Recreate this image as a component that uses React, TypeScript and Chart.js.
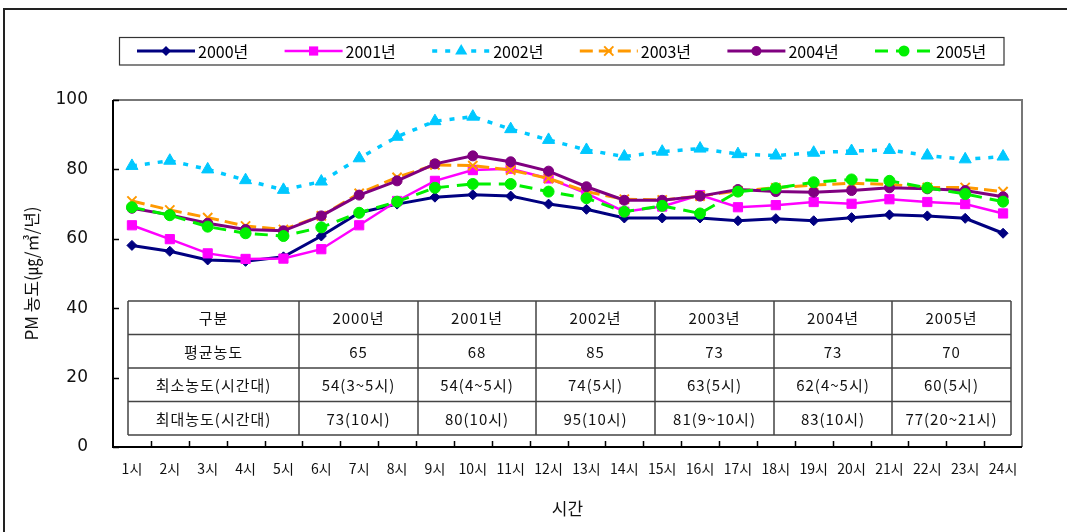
import React, { useEffect, useRef } from 'react';
import { Chart, registerables } from 'chart.js';

Chart.register(...registerables);

const hours = ['1시', '2시', '3시', '4시', '5시', '6시', '7시', '8시', '9시', '10시', '11시', '12시', '13시', '14시', '15시', '16시', '17시', '18시', '19시', '20시', '21시', '22시', '23시', '24시'];
const years = ['2000년', '2001년', '2002년', '2003년', '2004년', '2005년'];

const y2000 = [58.1, 56.4, 53.9, 53.5, 54.8, 60.8, 67.5, 70.0, 72.0, 72.7, 72.3, 70.0, 68.5, 66.0, 66.0, 66.0, 65.2, 65.8, 65.2, 66.1, 66.9, 66.6, 65.9, 61.6];
const y2001 = [63.9, 59.9, 55.8, 54.2, 54.3, 57.0, 63.9, 70.9, 76.7, 79.8, 80.2, 77.4, 73.1, 67.8, 69.3, 72.6, 69.1, 69.7, 70.6, 70.1, 71.4, 70.6, 70.0, 67.3];
const y2002 = [81.0, 82.5, 80.0, 76.9, 74.1, 76.5, 83.2, 89.4, 93.9, 95.2, 91.6, 88.5, 85.6, 83.7, 85.1, 86.0, 84.4, 84.0, 84.8, 85.3, 85.6, 84.0, 82.9, 83.7];
const y2003 = [70.9, 68.3, 66.1, 63.7, 62.7, 66.6, 73.1, 77.7, 81.3, 81.1, 79.8, 77.4, 73.6, 71.4, 71.2, 72.3, 73.8, 74.7, 75.5, 76.0, 75.7, 74.8, 74.8, 73.6];
const y2004 = [68.8, 66.9, 64.5, 62.7, 62.3, 66.6, 72.6, 76.7, 81.6, 83.9, 82.2, 79.5, 75.0, 71.1, 71.1, 72.3, 74.2, 73.6, 73.4, 73.9, 74.7, 74.4, 73.9, 72.1];
const y2005 = [69.1, 66.8, 63.5, 61.6, 60.8, 63.3, 67.5, 70.7, 74.7, 75.8, 75.8, 73.6, 71.7, 67.8, 69.5, 67.3, 73.6, 74.6, 76.3, 77.1, 76.7, 74.7, 72.9, 70.7];

const yTicks = [0, 20, 40, 60, 80, 100];

const tableHeader = ['구분', ...years];
const avgRow = ['평균농도', '65', '68', '85', '73', '73', '70'];
const minRow = ['최소농도(시간대)', '54(3~5시)', '54(4~5시)', '74(5시)', '63(5시)', '62(4~5시)', '60(5시)'];
const maxRow = ['최대농도(시간대)', '73(10시)', '80(10시)', '95(10시)', '81(9~10시)', '83(10시)', '77(20~21시)'];

const yTitle = 'PM 농도(㎍/㎥/년)';
const xTitle = '시간';

const KR = '"Noto Sans CJK KR", "Noto Sans", sans-serif';

const seriesStyles = [
  { color: '#000080', dash: [] as number[], width: 3, point: 'rectRot', radius: 5 },
  { color: '#FF00FF', dash: [] as number[], width: 2.5, point: 'rect', radius: 6.5 },
  { color: '#00C8FF', dash: [5, 8], width: 3.5, point: 'triangle', radius: 7 },
  { color: '#FF9900', dash: [13, 6], width: 3, point: 'crossRot', radius: 6.5 },
  { color: '#800080', dash: [] as number[], width: 3, point: 'circle', radius: 5 },
  { color: '#00F000', dash: [13, 8], width: 3, point: 'circle', radius: 5.5 },
];
const seriesData = [y2000, y2001, y2002, y2003, y2004, y2005];

function drawMarker(ctx: CanvasRenderingContext2D, style: string, x: number, y: number, r: number, color: string) {
  ctx.save();
  ctx.fillStyle = color;
  ctx.strokeStyle = color;
  ctx.setLineDash([]);
  ctx.beginPath();
  if (style === 'rectRot') {
    ctx.moveTo(x, y - r); ctx.lineTo(x + r, y); ctx.lineTo(x, y + r); ctx.lineTo(x - r, y); ctx.closePath(); ctx.fill();
  } else if (style === 'rect') {
    const s = r * Math.SQRT1_2;
    ctx.rect(x - s, y - s, 2 * s, 2 * s); ctx.fill();
  } else if (style === 'triangle') {
    ctx.moveTo(x, y - r); ctx.lineTo(x + r * 0.87, y + r * 0.5); ctx.lineTo(x - r * 0.87, y + r * 0.5); ctx.closePath(); ctx.fill();
  } else if (style === 'crossRot') {
    const s = r * Math.SQRT1_2;
    ctx.lineWidth = 2;
    ctx.moveTo(x - s, y - s); ctx.lineTo(x + s, y + s); ctx.moveTo(x + s, y - s); ctx.lineTo(x - s, y + s); ctx.stroke();
  } else {
    ctx.arc(x, y, r, 0, Math.PI * 2); ctx.fill();
  }
  ctx.restore();
}

const decorPlugin = {
  id: 'decor',
  beforeDraw(chart: any) {
    const { ctx } = chart;
    ctx.save();
    ctx.fillStyle = '#ffffff';
    ctx.fillRect(0, 0, chart.width, chart.height);
    ctx.restore();
  },
  beforeDatasetsDraw(chart: any) {
    const { ctx, chartArea } = chart;
    const { left, right, top, bottom } = chartArea;
    const xs = chart.scales.x;
    const ys = chart.scales.y;
    ctx.save();
    ctx.strokeStyle = '#777';
    ctx.lineWidth = 2;
    ctx.beginPath();
    ctx.moveTo(left, top); ctx.lineTo(right, top); ctx.lineTo(right, bottom);
    ctx.stroke();
    ctx.strokeStyle = '#000';
    ctx.lineWidth = 2;
    ctx.beginPath();
    ctx.moveTo(left, top); ctx.lineTo(left, bottom); ctx.lineTo(right, bottom);
    ctx.stroke();
    ctx.lineWidth = 1.5;
    ctx.beginPath();
    yTicks.forEach((v) => {
      const y = Math.round(ys.getPixelForValue(v)) + 0.5;
      ctx.moveTo(left, y); ctx.lineTo(left + 6, y);
    });
    const n = hours.length;
    for (let k = 1; k < n; k++) {
      const x = Math.round((xs.getPixelForValue(k - 1) + xs.getPixelForValue(k)) / 2) + 0.5;
      ctx.moveTo(x, bottom); ctx.lineTo(x, bottom - 6);
    }
    ctx.stroke();
    ctx.restore();
  },
  afterDraw(chart: any) {
    const { ctx } = chart;
    ctx.save();
    ctx.strokeStyle = '#222';
    ctx.lineWidth = 2;
    ctx.beginPath();
    ctx.moveTo(4, chart.height); ctx.lineTo(4, 9); ctx.lineTo(chart.width, 9);
    ctx.stroke();

    // legend
    ctx.fillStyle = '#fff';
    ctx.fillRect(119, 37, 885, 28);
    ctx.strokeStyle = '#333';
    ctx.lineWidth = 1.2;
    ctx.strokeRect(119.5, 37.5, 884.5, 27.5);
    const ly = 51;
    years.forEach((name, i) => {
      const st = seriesStyles[i];
      const x0 = 137 + i * 147.6;
      ctx.save();
      ctx.strokeStyle = st.color;
      ctx.lineWidth = st.width;
      ctx.setLineDash(st.dash);
      ctx.beginPath();
      ctx.moveTo(x0, ly); ctx.lineTo(x0 + 58, ly);
      ctx.stroke();
      ctx.restore();
      drawMarker(ctx, st.point, x0 + 29, ly, st.radius, st.color);
      ctx.fillStyle = '#000';
      ctx.font = `16px ${KR}`;
      ctx.textAlign = 'left';
      ctx.textBaseline = 'middle';
      ctx.fillText(name, x0 + 61, ly + 1);
    });

    // table
    const cols = [128, 299, 418, 536, 655, 774, 892, 1011];
    const rowsY = [301, 334.5, 368, 401.5, 435];
    const rows = [tableHeader, avgRow, minRow, maxRow];
    ctx.fillStyle = '#fff';
    ctx.fillRect(cols[0], rowsY[0], cols[cols.length - 1] - cols[0], rowsY[rowsY.length - 1] - rowsY[0]);
    ctx.strokeStyle = '#444';
    ctx.lineWidth = 1.5;
    ctx.beginPath();
    rowsY.forEach((y) => { ctx.moveTo(cols[0], y); ctx.lineTo(cols[cols.length - 1], y); });
    cols.forEach((x) => { ctx.moveTo(x, rowsY[0]); ctx.lineTo(x, rowsY[rowsY.length - 1]); });
    ctx.stroke();
    ctx.fillStyle = '#111';
    ctx.font = `15px ${KR}`;
    ctx.textAlign = 'center';
    ctx.textBaseline = 'middle';
    (ctx as any).letterSpacing = '1px';
    rows.forEach((row, r) => {
      row.forEach((txt, c) => {
        const cx = (cols[c] + cols[c + 1]) / 2;
        const cy = (rowsY[r] + rowsY[r + 1]) / 2 + 1;
        ctx.fillText(txt, cx, cy);
      });
    });
    ctx.restore();
  },
};

export default function App() {
  const ref = useRef<HTMLCanvasElement | null>(null);
  useEffect(() => {
    if (!ref.current) return;
    const datasets = seriesData.map((d, i) => {
      const st = seriesStyles[i];
      return {
        label: years[i],
        data: d,
        borderColor: st.color,
        backgroundColor: st.color,
        borderWidth: st.width,
        borderDash: st.dash,
        pointStyle: st.point as any,
        pointRadius: st.radius,
        pointBackgroundColor: st.color,
        pointBorderColor: st.color,
        pointBorderWidth: st.point === 'crossRot' ? 2 : 1,
        tension: 0,
        fill: false,
        order: seriesData.length - i,
      };
    });
    const chart = new Chart(ref.current, {
      type: 'line',
      data: { labels: hours, datasets },
      plugins: [decorPlugin],
      options: {
        animation: false,
        responsive: false,
        devicePixelRatio: 1,
        layout: { padding: { top: 100, right: 45, left: 0, bottom: 0 } },
        plugins: { legend: { display: false }, tooltip: { enabled: false } },
        scales: {
          x: {
            type: 'category',
            offset: true,
            grid: { display: false },
            border: { display: false },
            ticks: { font: { family: KR, size: 14 }, color: '#111', padding: 5, maxRotation: 0, autoSkip: false },
            title: { display: true, text: xTitle, font: { family: KR, size: 17 }, color: '#111', padding: { top: 0, bottom: 13 } },
            afterFit: (s: any) => { s.height = 85; },
          },
          y: {
            min: 0,
            max: 100,
            afterBuildTicks: (s: any) => { s.ticks = yTicks.map((v) => ({ value: v })); },
            grid: { display: false },
            border: { display: false },
            ticks: { font: { family: '"DejaVu Sans", sans-serif', size: 17 }, color: '#111', padding: 17 },
            title: { display: true, text: yTitle, font: { family: KR, size: 17 }, color: '#111', padding: { top: 21, bottom: 0 } },
            afterFit: (s: any) => { s.width = 113; },
          },
        },
      },
    });
    return () => chart.destroy();
  }, []);
  return (
    <div style={{ position: 'absolute', left: 0, top: 0, width: 1067, height: 532 }}>
      <canvas ref={ref} width={1067} height={532} style={{ width: 1067, height: 532 }} />
    </div>
  );
}
